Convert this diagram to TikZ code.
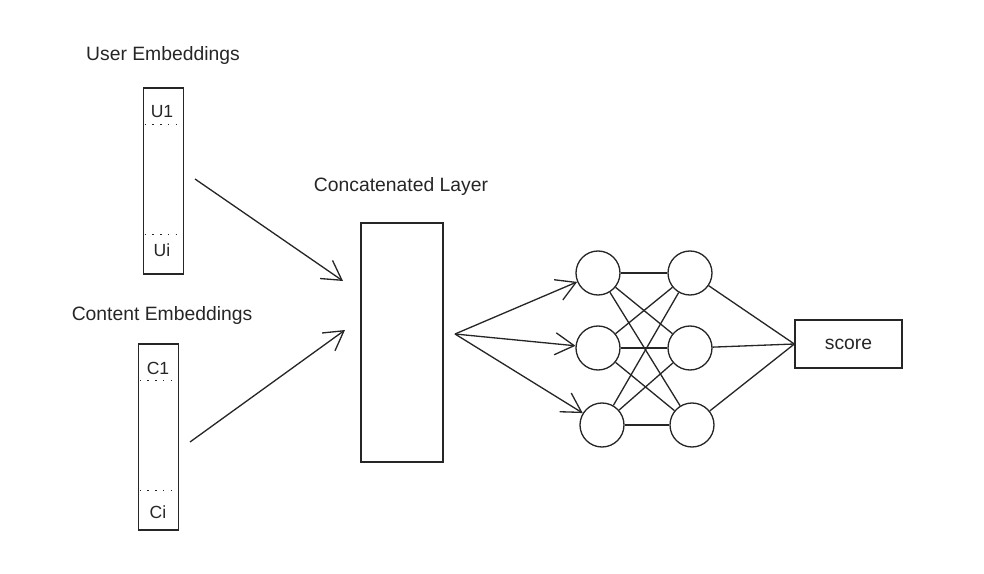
\documentclass[tikz,border=0pt]{standalone}
\usepackage{fontspec}
\setmainfont{Liberation Sans}
\usepackage{tikz}
\usetikzlibrary{positioning,calc,arrows.meta}

\begin{document}
\begin{tikzpicture}[x=0.02cm,y=-0.02cm,line width=0.75pt,black!85,
    arr/.style={-{Straight Barb[length=3.8mm,width=4.4mm]}},
    embed/.style={draw,minimum width=0.8cm,minimum height=3.72cm,inner sep=0pt},
    unit/.style={draw,circle,minimum size=0.88cm,inner sep=0pt},
    title/.style={font=\fontsize{11}{13}\selectfont},
    cell/.style={font=\fontsize{10}{12}\selectfont},
    sep/.style={line width=0.9pt,dash pattern=on 0.9pt off 3.5pt,dash phase=-1pt}]
    \useasboundingbox (0,0) rectangle (984,574);

    % embeddings
    \node[title] (utitle) at (163,56) {User Embeddings};
    \node[embed] (user) at (163.5,181) {};
    \node[cell] (u1) at (162,112) {U1};
    \node[cell] (ui) at (162,250) {Ui};
    \draw[sep] ($(user.north west)+(0,37)$) -- ($(user.north east)+(0,37)$);
    \draw[sep] ($(user.south west)+(0,-40)$) -- ($(user.south east)+(0,-40)$);

    \node[title] (ctitle) at (162,316) {Content Embeddings};
    \node[embed] (content) at (158.5,437) {};
    \node[cell] (c1) at (158,368) {C1};
    \node[cell] (ci) at (158,512) {Ci};
    \draw[sep] ($(content.north west)+(0,37)$) -- ($(content.north east)+(0,37)$);
    \draw[sep] ($(content.south west)+(0,-40)$) -- ($(content.south east)+(0,-40)$);

    % concatenated layer
    \node[title] (ktitle) at (401,187) {Concatenated Layer};
    \node[draw,minimum width=1.64cm,minimum height=4.78cm] (concat) at (402,342.5) {};
    \coordinate (uout) at (195,179);
    \coordinate (cout) at (190,442);
    \coordinate (uin) at (343,281);
    \coordinate (cin) at (345,330);
    \draw[arr] (uout) -- (uin);
    \draw[arr] (cout) -- (cin);

    % hidden layers
    \node[unit] (h1) at (598,273) {};
    \node[unit] (h2) at (598,348) {};
    \node[unit] (h3) at (602,425) {};
    \node[unit] (g1) at (690,273) {};
    \node[unit] (g2) at (690,348) {};
    \node[unit] (g3) at (692,425) {};
    \node[draw,minimum width=2.14cm,minimum height=0.96cm,font=\fontsize{11}{13}\selectfont] (score) at (848.5,344) {score};

    \coordinate (kout) at (455,334);
    \foreach \h in {h1,h2,h3}
        \draw[arr] (kout) -- (\h);
    \foreach \h in {h1,h2,h3}
        \foreach \g in {g1,g2,g3}
            \draw (\h) -- (\g);
    \foreach \g in {g1,g2,g3}
        \draw (\g) -- (score.west);
\end{tikzpicture}
\end{document}
